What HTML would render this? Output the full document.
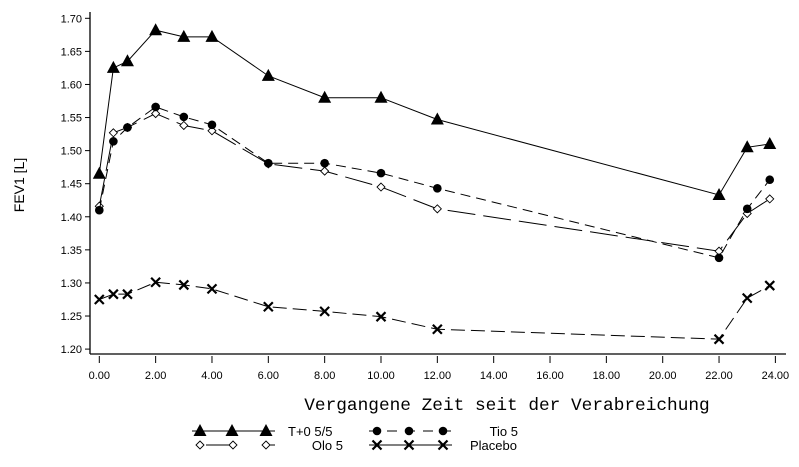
<!DOCTYPE html>
<html><head><meta charset="utf-8"><style>
html,body{margin:0;padding:0;background:#fff;width:799px;height:467px;overflow:hidden}
svg{display:block}
text{font-family:"Liberation Sans",sans-serif;fill:#000}
</style></head><body>
<svg id="c" width="799" height="467" viewBox="0 0 799 467" xmlns="http://www.w3.org/2000/svg"></svg>
<script>
const s=document.getElementById('c');
const X=t=>99.3+t*28.17, Y=v=>18.3+(1.70-v)/0.05*33.08;
let h='';
h+='<line x1="90" y1="12" x2="90" y2="354" stroke="#000" stroke-width="1.3"/>';
h+='<line x1="90" y1="354" x2="786" y2="354" stroke="#000" stroke-width="1.3"/>';
for(let i=0;i<=10;i++){const v=1.2+i*0.05,y=Y(v);
h+=`<line x1="85" y1="${y}" x2="90" y2="${y}" stroke="#000"/>`;
h+=`<text x="82" y="${y+4}" font-size="11" text-anchor="end">${v.toFixed(2)}</text>`;}
for(let t=0;t<=24;t+=2){const x=X(t);
h+=`<line x1="${x}" y1="356" x2="${x}" y2="363" stroke="#000"/>`;
h+=`<text x="${x}" y="379" font-size="11" text-anchor="middle">${t.toFixed(2)}</text>`;}
h+='<text transform="translate(24,185) rotate(-90)" font-size="14" text-anchor="middle">FEV1 [L]</text>';
h+='<text x="507" y="410" font-size="17.8" text-anchor="middle" style="font-family:\'Liberation Mono\',monospace">Vergangene Zeit seit der Verabreichung</text>';
const T=[0,0.5,1,2,3,4,6,8,10,12,22,23,23.8];
const S={
 t:[1.465,1.625,1.635,1.682,1.672,1.672,1.613,1.58,1.58,1.547,1.433,1.505,1.51],
 tio:[1.41,1.514,1.535,1.566,1.551,1.539,1.481,1.481,1.466,1.443,1.338,1.412,1.456],
 olo:[1.416,1.527,1.535,1.556,1.538,1.53,1.48,1.469,1.445,1.412,1.348,1.405,1.427],
 pl:[1.275,1.283,1.283,1.301,1.297,1.291,1.264,1.257,1.249,1.230,1.215,1.277,1.296]};
function tri(x,y){return `<polygon points="${x},${y-7} ${x-6.5},${y+5} ${x+6.5},${y+5}" fill="#000"/>`}
function dot(x,y){return `<circle cx="${x}" cy="${y}" r="4.3" fill="#000"/>`}
function dia(x,y){return `<polygon points="${x},${y-4} ${x+4},${y} ${x},${y+4} ${x-4},${y}" fill="#fff" stroke="#000" stroke-width="0.9"/>`}
function cross(x,y){return `<path d="M${x-4.5},${y-4.5}L${x+4.5},${y+4.5}M${x+4.5},${y-4.5}L${x-4.5},${y+4.5}" stroke="#000" stroke-width="2.2"/>`}
function series(k,dash,m){const pts=T.map((t,i)=>X(t)+','+Y(S[k][i])).join(' ');
h+=`<polyline points="${pts}" fill="none" stroke="#000" stroke-width="1" ${dash?'stroke-dasharray="'+dash+'"':''}/>`;
T.forEach((t,i)=>h+=m(X(t),Y(S[k][i])));}
series('pl','14,6',cross);
series('olo','28,8',dia);
series('tio','10,6',dot);
series('t','',tri);
h+='<line x1="192" y1="431" x2="275" y2="431" stroke="#000"/>';
[200,232,266].forEach(x=>h+=tri(x,431));
h+='<text x="288" y="436" font-size="13">T+0 5/5</text>';
h+='<line x1="369" y1="431" x2="452" y2="431" stroke="#000" stroke-dasharray="10,8"/>';
[377,409,443].forEach(x=>h+=dot(x,431));
h+='<text x="518" y="436" font-size="13" text-anchor="end">Tio 5</text>';
h+='<line x1="206" y1="445" x2="275" y2="445" stroke="#000" stroke-dasharray="24,38"/>';
[200,233,266].forEach(x=>h+=dia(x,445));
h+='<text x="343" y="450" font-size="13" text-anchor="end">Olo 5</text>';
h+='<line x1="369" y1="445" x2="452" y2="445" stroke="#000"/>';
[377,409,443].forEach(x=>h+=cross(x,445));
h+='<text x="470" y="450" font-size="13">Placebo</text>';
s.innerHTML=h;
</script>
</body></html>
